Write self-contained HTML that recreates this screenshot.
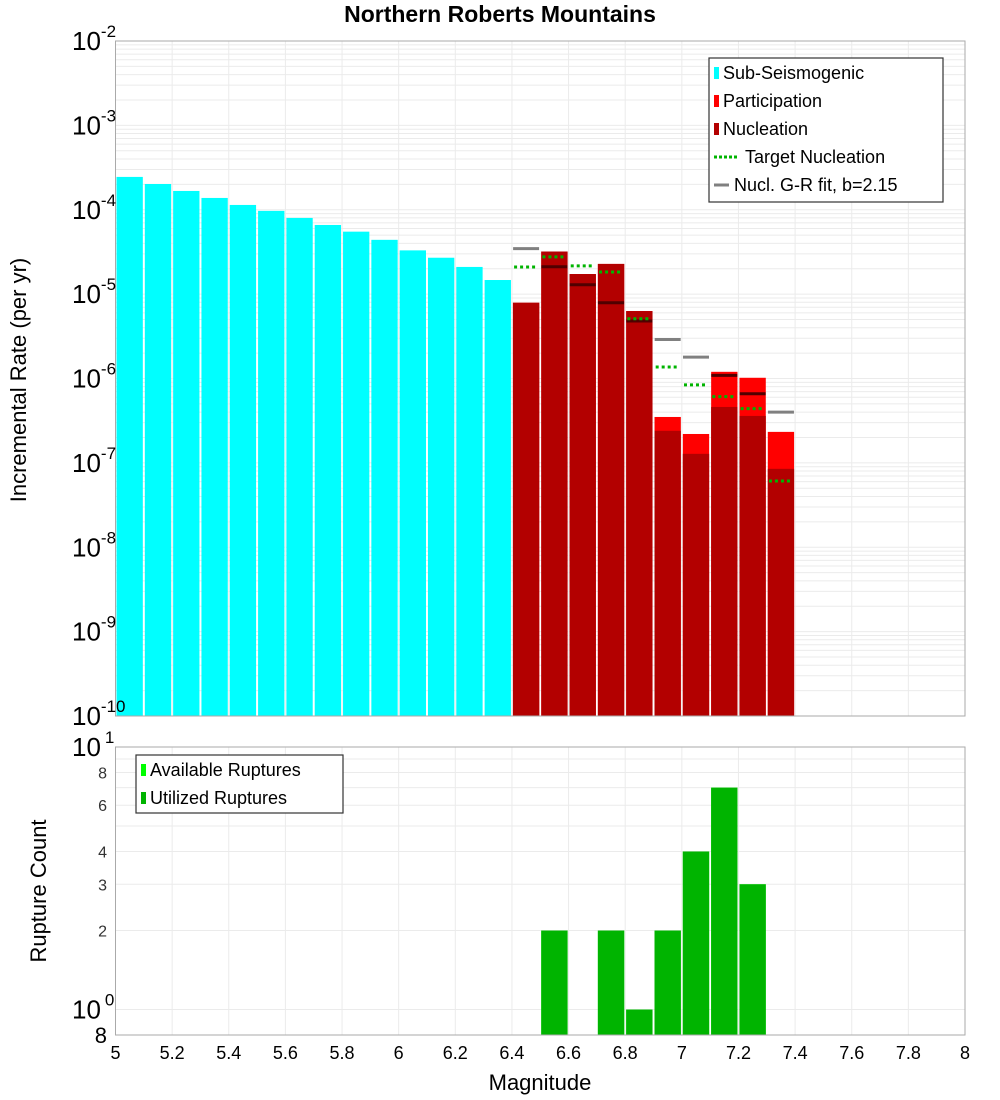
<!DOCTYPE html>
<html><head><meta charset="utf-8"><style>
body{margin:0;background:#fff;}
svg{display:block;font-family:"Liberation Sans","DejaVu Sans",sans-serif;}
</style></head><body>
<svg id="c" width="1000" height="1100" xmlns="http://www.w3.org/2000/svg">
<text x="500" y="22" text-anchor="middle" font-size="23" font-weight="bold">Northern Roberts Mountains</text>
<text transform="translate(26,380) rotate(-90)" text-anchor="middle" font-size="22">Incremental Rate (per yr)</text>
<text transform="translate(46,891) rotate(-90)" text-anchor="middle" font-size="22">Rupture Count</text>
<text x="540" y="1090" text-anchor="middle" font-size="22">Magnitude</text>
<g id="topg"></g><g id="botg"></g>
</svg>
<script>
const subMags=[5.05,5.15,5.25,5.35,5.45,5.55,5.65,5.75,5.85,5.95,6.05,6.15,6.25,6.35];
const subRates=[2.45e-4,2.02e-4,1.67e-4,1.38e-4,1.14e-4,9.7e-5,8.0e-5,6.6e-5,5.5e-5,4.4e-5,3.3e-5,2.7e-5,2.1e-5,1.47e-5];
const supMags=[6.45,6.55,6.65,6.75,6.85,6.95,7.05,7.15,7.25,7.35];
const partRates=[7.9e-6,3.2e-5,1.73e-5,2.28e-5,6.3e-6,3.5e-7,2.2e-7,1.2e-6,1.02e-6,2.33e-7];
const nuclRates=[7.9e-6,3.2e-5,1.73e-5,2.28e-5,6.3e-6,2.4e-7,1.28e-7,4.6e-7,3.6e-7,8.5e-8];
const targetRates=[2.1e-5,2.76e-5,2.16e-5,1.83e-5,5.1e-6,1.37e-6,8.4e-7,6.1e-7,4.4e-7,6.1e-8];
const grRates=[3.46e-5,2.11e-5,1.29e-5,7.9e-6,4.8e-6,2.9e-6,1.79e-6,1.09e-6,6.6e-7,4.0e-7];
const cntMags=[6.55,6.75,6.85,6.95,7.05,7.15,7.25];
const availCounts=[2,2,1,2,4,7,3];
const usedCounts=[2,2,1,2,4,7,3];
const xTicks=[5,5.2,5.4,5.6,5.8,6,6.2,6.4,6.6,6.8,7,7.2,7.4,7.6,7.8,8];
const topExps=[-2,-3,-4,-5,-6,-7,-8,-9,-10];
const botMinorTicks=[8,6,4,3,2];

const NS="http://www.w3.org/2000/svg";
const L=115.5,R=965;
const X=m=>L+(m-5)/3*(R-L);
const TT=41,TB=716;
const YT=v=>TT+(-2-Math.log10(v))/8*(TB-TT);
const BT=747,BB=1035;
const YB=v=>BB-(Math.log10(v)-Math.log10(0.8))/(1-Math.log10(0.8))*(BB-BT);
function mk(p,tag,a){const e=document.createElementNS(NS,tag);for(const k in a)e.setAttribute(k,a[k]);p.appendChild(e);return e;}
const topG=document.getElementById('topg'),botG=document.getElementById('botg');
const bw=(X(5.1)-X(5))-2;

for(let d=-10;d<-2;d++)for(let k=1;k<10;k++){const y=YT(k*Math.pow(10,d));
 const g=mk(topG,'line',{x1:L,x2:R,y1:y,y2:y,stroke:'#ebebeb','stroke-width':1});
 
 }
xTicks.forEach(t=>{[topG,botG].forEach((p,i)=>{const g=mk(p,'line',{x1:X(t),x2:X(t),y1:i?BT:TT,y2:i?BB:TB,stroke:'#ebebeb'});
 
 });});
[0.8,1,2,3,4,5,6,7,8,9,10].forEach(v=>{const y=YB(v);
 const g=mk(botG,'line',{x1:L,x2:R,y1:y,y2:y,stroke:'#ebebeb'});
 
 });

subMags.forEach((m,i)=>{const y=YT(subRates[i]);
 const r=mk(topG,'rect',{x:X(m)-bw/2,y:y,width:bw,height:TB-y,fill:'#00ffff'});
 
 });
supMags.forEach((m,i)=>{let y=YT(partRates[i]);
 let r=mk(topG,'rect',{x:X(m)-bw/2,y:y,width:bw,height:TB-y,fill:'#ff0000'});
 
 
 y=YT(nuclRates[i]);
 r=mk(topG,'rect',{x:X(m)-bw/2,y:y,width:bw,height:TB-y,fill:'#b30000'});
 
 });
supMags.forEach((m,i)=>{let y=YT(grRates[i]);
 const under=partRates[i]>=grRates[i];
 let l=mk(topG,'line',{x1:X(m)-13,x2:X(m)+13,y1:y,y2:y,stroke:under?'#500000':'#808080','stroke-width':3});
 
 
 y=YT(targetRates[i]);
 l=mk(topG,'line',{x1:X(m)-12,x2:X(m)+12,y1:y,y2:y,stroke:'#00b400','stroke-width':3,'stroke-dasharray':'3,3'});
 
 });
cntMags.forEach((m,i)=>{let y=YB(availCounts[i]);
 let r=mk(botG,'rect',{x:X(m)-bw/2,y:y,width:bw,height:BB-y,fill:'#00ff00'});
 
 
 y=YB(usedCounts[i]);
 r=mk(botG,'rect',{x:X(m)-bw/2,y:y,width:bw,height:BB-y,fill:'#00b400'});
 
 });

let f=mk(topG,'rect',{x:L,y:TT,width:R-L,height:TB-TT,fill:'none',stroke:'#aaaaaa'});


f=mk(botG,'rect',{x:L,y:BT,width:R-L,height:BB-BT,fill:'none',stroke:'#aaaaaa'});



xTicks.forEach(t=>{const e=mk(botG,'text',{x:X(t),y:1059,'text-anchor':'middle','font-size':18});
 e.textContent=String(t);
 
 });
topExps.forEach(d=>{const y=YT(Math.pow(10,d));
 const e=mk(topG,'text',{x:72,y:y+9,'font-size':26});
 e.textContent='10';
 
 
 const s=mk(topG,'tspan',{dy:-13,'font-size':17});s.textContent=String(d);e.appendChild(s);});
[[10,'1'],[1,'0']].forEach(([v,ex])=>{const y=YB(v);
 const e=mk(botG,'text',{x:72,y:y+9,'font-size':26});
 e.textContent='10';
 
 
 const s=mk(botG,'tspan',{dx:4,dy:-13,'font-size':17});s.textContent=ex;e.appendChild(s);});
botMinorTicks.forEach(v=>{const e=mk(botG,'text',{x:107,y:YB(v)+6,'text-anchor':'end','font-size':16,fill:'#333'});
 e.textContent=String(v);
 
 });
let e8=mk(botG,'text',{x:107,y:BB+8,'text-anchor':'end','font-size':22});
e8.textContent='8';



function legend(p,x,y,w,h,items,name){const g=mk(p,'g',{});
 
 
 mk(g,'rect',{x:x,y:y,width:w,height:h,fill:'#fff',stroke:'#333','stroke-width':1.2});
 items.forEach((it,i)=>{const cy=y+15+i*28;const ie=mk(g,'g',{});
  
  
  if(it[2]==='box')mk(ie,'rect',{x:x+5,y:cy-6,width:5,height:12,fill:it[1]});
  else if(it[2]==='dot')mk(ie,'line',{x1:x+5,x2:x+28,y1:cy,y2:cy,stroke:it[1],'stroke-width':3,'stroke-dasharray':'3,2'});
  else mk(ie,'line',{x1:x+5,x2:x+20,y1:cy,y2:cy,stroke:it[1],'stroke-width':3});
  const t=mk(ie,'text',{x:x+(it[2]==='box'?14:(it[2]==='dot'?36:25)),y:cy+6,'font-size':18});t.textContent=it[0];});}
legend(topG,709,58,234,144,[['Sub-Seismogenic','#00ffff','box'],['Participation','#ff0000','box'],['Nucleation','#b30000','box'],['Target Nucleation','#00b400','dot'],['Nucl. G-R fit, b=2.15','#808080','line']],'top-legend');
legend(botG,136,755,207,58,[['Available Ruptures','#00ff00','box'],['Utilized Ruptures','#00b400','box']],'bottom-legend');
</script>
</body></html>
